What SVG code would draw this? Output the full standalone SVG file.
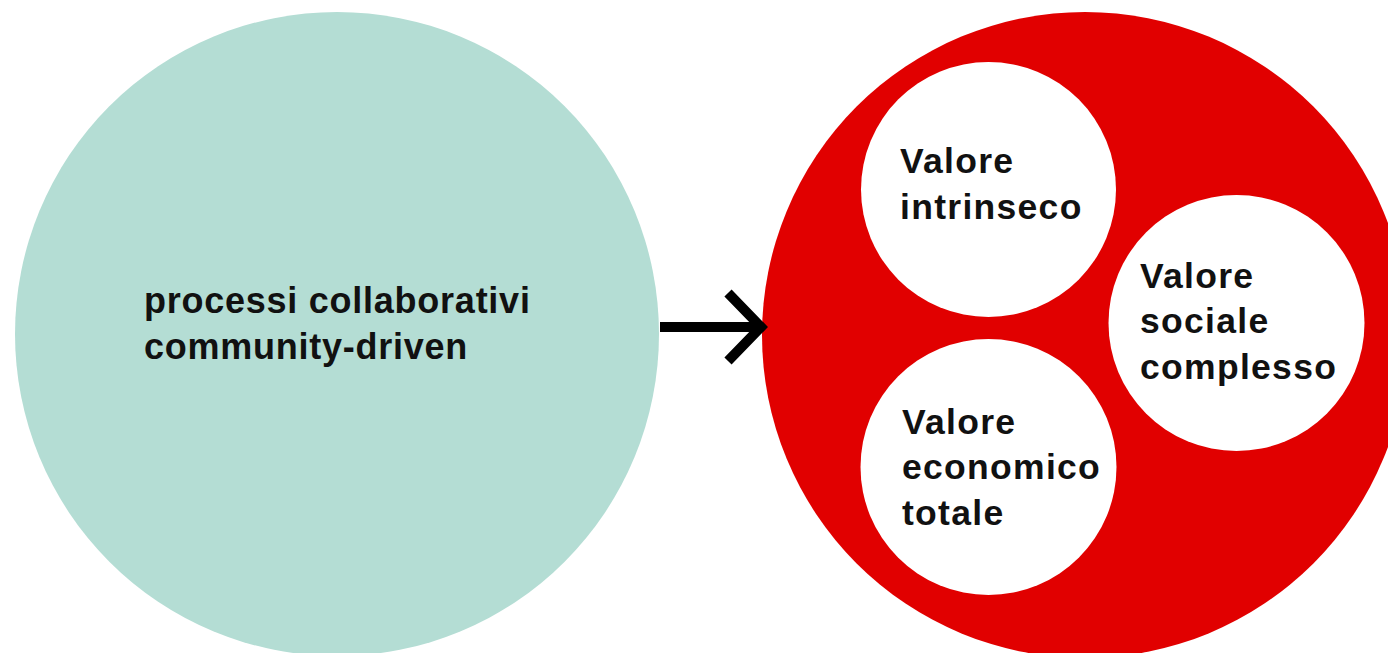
<svg xmlns="http://www.w3.org/2000/svg" width="1388" height="653" viewBox="0 0 1388 653">
<style>
.t{font-family:"Liberation Sans",Arial,Helvetica,sans-serif;font-weight:bold;font-size:35.5px;fill:#111;letter-spacing:1.3px}
.w{fill:#ffffff}
</style>
<rect x="0" y="0" width="1388" height="653" fill="#ffffff"/>
<g id="processi">
<circle cx="337" cy="334" r="322" fill="#b4ddd4"/>
<text class="t" style="font-size:36px;letter-spacing:0.75px"><tspan x="144" y="313">processi collaborativi</tspan><tspan x="144" y="359">community-driven</tspan></text>
</g>
<g id="valore">
<circle cx="1085" cy="335" r="323" fill="#e10000"/>
</g>
<g id="intrinseco">
<circle class="w" cx="988.5" cy="189.5" r="127.5"/>
<text class="t"><tspan x="900" y="173">Valore</tspan><tspan x="900" y="219">intrinseco</tspan></text>
</g>
<g id="sociale">
<circle class="w" cx="1236.5" cy="323" r="128"/>
<text class="t"><tspan x="1140" y="288">Valore</tspan><tspan x="1140" y="333">sociale</tspan><tspan x="1140" y="379">complesso</tspan></text>
</g>
<g id="economico">
<circle class="w" cx="988.5" cy="467" r="128"/>
<text class="t"><tspan x="902" y="434">Valore</tspan><tspan x="902" y="479">economico</tspan><tspan x="902" y="525">totale</tspan></text>
</g>
<g id="connectors" stroke="#000" stroke-width="10" fill="none">
<line x1="660" y1="327" x2="758" y2="327"/>
<polyline points="728,293 761,327 728,361" stroke-linejoin="miter"/>
</g>
</svg>
